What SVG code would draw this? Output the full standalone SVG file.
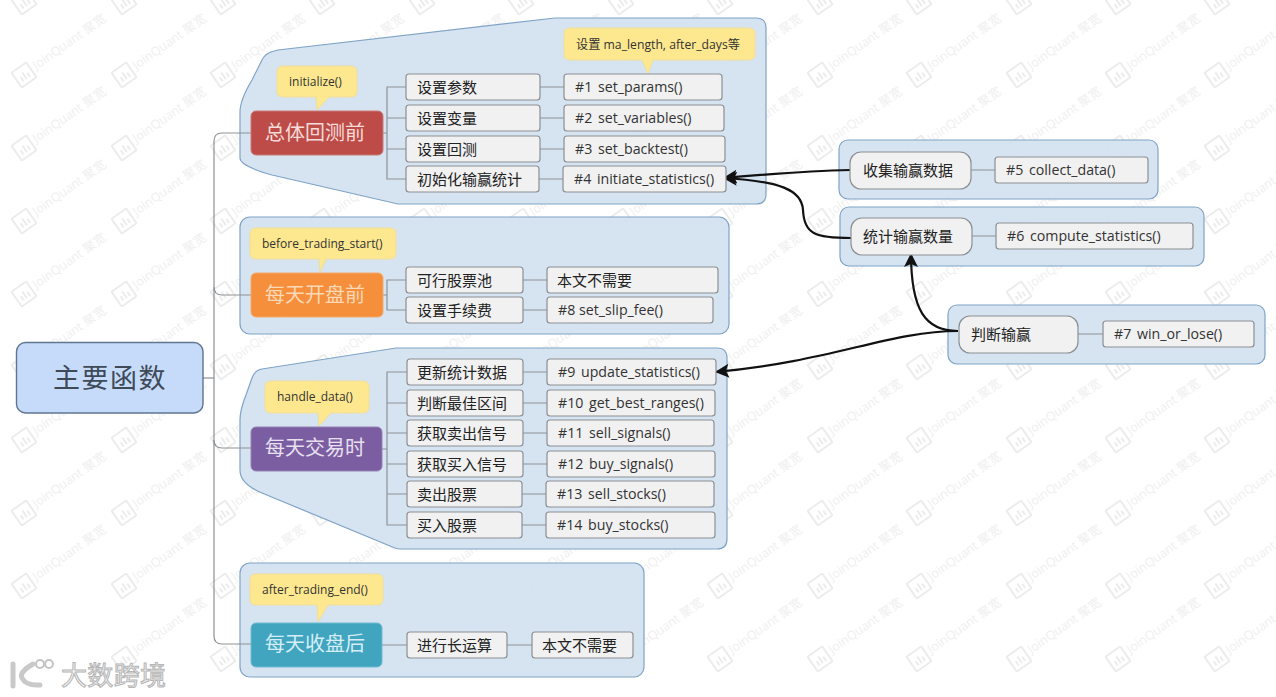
<svg xmlns="http://www.w3.org/2000/svg" width="1276" height="697" viewBox="0 0 1276 697">
<style>
text{font-family:"Open Sans","Noto Sans CJK SC","Noto Sans",sans-serif;}
.cjk{font-family:"Noto Sans CJK SC","Noto Sans",sans-serif;}
.panel{fill:#d2e2f1;fill-opacity:.92;stroke:#7fa3c6;stroke-width:1.2;}
.box{fill:#f1f1f1;stroke:#8b8f93;stroke-width:1.2;}
.callout{fill:#fde88f;stroke:#f0dd9a;stroke-width:1;}
.lab{font-size:15px;fill:#222;}
.code{font-size:14.200px;fill:#333;word-spacing:2px;}
.note{font-size:12px;fill:#333;}
.main{font-size:20px;fill:#f6dcd8;}
.line{fill:none;stroke:#8d9296;stroke-width:1.2;}
.link{fill:none;stroke:#111;stroke-width:2.2;}
.wm{fill:#efefef;font-size:12.500px;}
.wmi{fill:none;stroke:#ececec;stroke-width:2;}
</style>
<defs>
<marker id="ah" markerUnits="userSpaceOnUse" markerWidth="16" markerHeight="16" refX="14" refY="7" orient="auto"><path d="M0,0 L14,7 L0,14 L3,7 Z" fill="#111"/></marker>
<g id="wmark" transform="rotate(-35)">
<rect class="wmi" x="-9" y="-9" width="18" height="18" rx="1"/>
<path class="wmi" d="M-4,5 V0 M0,5 V-3 M4,5 V0" stroke-width="1.5"/>
<text class="wm" x="13" y="3">JoinQuant 聚宽</text>
</g>
</defs>
<rect width="1276" height="697" fill="#ffffff"/>
<g id="watermark">
<use href="#wmark" transform="translate(24,2)"/><use href="#wmark" transform="translate(124,2)"/><use href="#wmark" transform="translate(223,2)"/><use href="#wmark" transform="translate(322,2)"/><use href="#wmark" transform="translate(422,2)"/><use href="#wmark" transform="translate(521,2)"/><use href="#wmark" transform="translate(621,2)"/><use href="#wmark" transform="translate(720,2)"/><use href="#wmark" transform="translate(820,2)"/><use href="#wmark" transform="translate(919,2)"/><use href="#wmark" transform="translate(1019,2)"/><use href="#wmark" transform="translate(1118,2)"/><use href="#wmark" transform="translate(1217,2)"/>
<use href="#wmark" transform="translate(24,75)"/><use href="#wmark" transform="translate(124,75)"/><use href="#wmark" transform="translate(223,75)"/><use href="#wmark" transform="translate(322,75)"/><use href="#wmark" transform="translate(422,75)"/><use href="#wmark" transform="translate(521,75)"/><use href="#wmark" transform="translate(621,75)"/><use href="#wmark" transform="translate(720,75)"/><use href="#wmark" transform="translate(820,75)"/><use href="#wmark" transform="translate(919,75)"/><use href="#wmark" transform="translate(1019,75)"/><use href="#wmark" transform="translate(1118,75)"/><use href="#wmark" transform="translate(1217,75)"/>
<use href="#wmark" transform="translate(24,148)"/><use href="#wmark" transform="translate(124,148)"/><use href="#wmark" transform="translate(223,148)"/><use href="#wmark" transform="translate(322,148)"/><use href="#wmark" transform="translate(422,148)"/><use href="#wmark" transform="translate(521,148)"/><use href="#wmark" transform="translate(621,148)"/><use href="#wmark" transform="translate(720,148)"/><use href="#wmark" transform="translate(820,148)"/><use href="#wmark" transform="translate(919,148)"/><use href="#wmark" transform="translate(1019,148)"/><use href="#wmark" transform="translate(1118,148)"/><use href="#wmark" transform="translate(1217,148)"/>
<use href="#wmark" transform="translate(24,221)"/><use href="#wmark" transform="translate(124,221)"/><use href="#wmark" transform="translate(223,221)"/><use href="#wmark" transform="translate(322,221)"/><use href="#wmark" transform="translate(422,221)"/><use href="#wmark" transform="translate(521,221)"/><use href="#wmark" transform="translate(621,221)"/><use href="#wmark" transform="translate(720,221)"/><use href="#wmark" transform="translate(820,221)"/><use href="#wmark" transform="translate(919,221)"/><use href="#wmark" transform="translate(1019,221)"/><use href="#wmark" transform="translate(1118,221)"/><use href="#wmark" transform="translate(1217,221)"/>
<use href="#wmark" transform="translate(24,294)"/><use href="#wmark" transform="translate(124,294)"/><use href="#wmark" transform="translate(223,294)"/><use href="#wmark" transform="translate(322,294)"/><use href="#wmark" transform="translate(422,294)"/><use href="#wmark" transform="translate(521,294)"/><use href="#wmark" transform="translate(621,294)"/><use href="#wmark" transform="translate(720,294)"/><use href="#wmark" transform="translate(820,294)"/><use href="#wmark" transform="translate(919,294)"/><use href="#wmark" transform="translate(1019,294)"/><use href="#wmark" transform="translate(1118,294)"/><use href="#wmark" transform="translate(1217,294)"/>
<use href="#wmark" transform="translate(24,367)"/><use href="#wmark" transform="translate(124,367)"/><use href="#wmark" transform="translate(223,367)"/><use href="#wmark" transform="translate(322,367)"/><use href="#wmark" transform="translate(422,367)"/><use href="#wmark" transform="translate(521,367)"/><use href="#wmark" transform="translate(621,367)"/><use href="#wmark" transform="translate(720,367)"/><use href="#wmark" transform="translate(820,367)"/><use href="#wmark" transform="translate(919,367)"/><use href="#wmark" transform="translate(1019,367)"/><use href="#wmark" transform="translate(1118,367)"/><use href="#wmark" transform="translate(1217,367)"/>
<use href="#wmark" transform="translate(24,440)"/><use href="#wmark" transform="translate(124,440)"/><use href="#wmark" transform="translate(223,440)"/><use href="#wmark" transform="translate(322,440)"/><use href="#wmark" transform="translate(422,440)"/><use href="#wmark" transform="translate(521,440)"/><use href="#wmark" transform="translate(621,440)"/><use href="#wmark" transform="translate(720,440)"/><use href="#wmark" transform="translate(820,440)"/><use href="#wmark" transform="translate(919,440)"/><use href="#wmark" transform="translate(1019,440)"/><use href="#wmark" transform="translate(1118,440)"/><use href="#wmark" transform="translate(1217,440)"/>
<use href="#wmark" transform="translate(24,513)"/><use href="#wmark" transform="translate(124,513)"/><use href="#wmark" transform="translate(223,513)"/><use href="#wmark" transform="translate(322,513)"/><use href="#wmark" transform="translate(422,513)"/><use href="#wmark" transform="translate(521,513)"/><use href="#wmark" transform="translate(621,513)"/><use href="#wmark" transform="translate(720,513)"/><use href="#wmark" transform="translate(820,513)"/><use href="#wmark" transform="translate(919,513)"/><use href="#wmark" transform="translate(1019,513)"/><use href="#wmark" transform="translate(1118,513)"/><use href="#wmark" transform="translate(1217,513)"/>
<use href="#wmark" transform="translate(24,586)"/><use href="#wmark" transform="translate(124,586)"/><use href="#wmark" transform="translate(223,586)"/><use href="#wmark" transform="translate(322,586)"/><use href="#wmark" transform="translate(422,586)"/><use href="#wmark" transform="translate(521,586)"/><use href="#wmark" transform="translate(621,586)"/><use href="#wmark" transform="translate(720,586)"/><use href="#wmark" transform="translate(820,586)"/><use href="#wmark" transform="translate(919,586)"/><use href="#wmark" transform="translate(1019,586)"/><use href="#wmark" transform="translate(1118,586)"/><use href="#wmark" transform="translate(1217,586)"/>
<use href="#wmark" transform="translate(124,659)"/><use href="#wmark" transform="translate(223,659)"/><use href="#wmark" transform="translate(322,659)"/><use href="#wmark" transform="translate(422,659)"/><use href="#wmark" transform="translate(521,659)"/><use href="#wmark" transform="translate(621,659)"/><use href="#wmark" transform="translate(720,659)"/><use href="#wmark" transform="translate(820,659)"/><use href="#wmark" transform="translate(919,659)"/><use href="#wmark" transform="translate(1019,659)"/><use href="#wmark" transform="translate(1118,659)"/><use href="#wmark" transform="translate(1217,659)"/>
</g>
<g id="panels">
<path class="panel" d="M271,52 Q274,51 278,50 L555,18 H756 Q766,18 766,28 V194 Q766,204 756,204 H398 L272,175 Q240,166 240,158 V112 Q240,100 252,80 L262,60 Q265,54 271,52 Z"/>
<rect class="panel" x="240" y="217" width="489" height="117" rx="10"/>
<path class="panel" d="M262,369 L396,348 H717 Q727,348 727,358 V539 Q727,549 717,549 H400 Q396,549 390,546 L262,493 Q240,484 240,470 V420 Q240,410 246,395 L252,378 Q255,370 262,369 Z"/>
<rect class="panel" x="240" y="563" width="404" height="114" rx="10"/>
<rect class="panel" x="839" y="140" width="319" height="59" rx="9"/>
<rect class="panel" x="840" y="207" width="364" height="59" rx="9"/>
<rect class="panel" x="948" y="305" width="317" height="59" rx="9"/>
</g>
<g id="connectors">
<path class="line" d="M203,378 H214"/>
<path class="line" d="M251,133 H222 Q214,133 214,141 V636 Q214,644 222,644 H251"/>
<path class="line" d="M214,287 Q214,295 222,295 H251"/>
<path class="line" d="M214,440 Q214,448 222,448 H251"/>
<path class="line" d="M383,133 H387 M406,87 H387 V179 H406 M387,118 H406 M387,149 H406"/>
<path class="line" d="M540,87 H564 M540,118 H564 M540,149 H564 M539,179 H563"/>
<path class="line" d="M383,295 H387 M406,280 H387 V310 H406"/>
<path class="line" d="M523,280 H547 M523,310 H547"/>
<path class="line" d="M382,449 H387 M407,372 H387 V525 H407 M387,403 H407 M387,433 H407 M387,464 H407 M387,494 H407"/>
<path class="line" d="M523,372 H547 M523,403 H547 M523,433 H547 M523,464 H547 M522,494 H546 M522,525 H546"/>
<path class="line" d="M382,645 H407 M507,645 H532"/>
<path class="line" d="M971,170 H995 M972,236 H996 M1078,334 H1103"/>
<path class="link" marker-end="url(#ah)" d="M850,170 C805,171 770,174 723,178"/>
<path class="link" marker-end="url(#ah)" d="M851,238 C815,238 804,234 803,210 C802,190 780,181 723,178"/>
<path class="link" marker-end="url(#ah)" d="M958,331 C925,331 911,310 911,253"/>
<path class="link" marker-end="url(#ah)" d="M958,331 C890,331 830,362 715,372"/>
</g>
<g id="root"><rect x="16.500" y="342.500" width="186.500" height="70.500" rx="9" fill="#c6dbfa" stroke="#5f7590" stroke-width="1.400"/><text class="cjk" x="53" y="388" font-size="27" fill="#3f4a58" letter-spacing="1.500">主要函数</text></g>
<g id="n-init"><path class="callout" d="M283,66 H351 Q357,66 357,72 V91 Q357,97 351,97 H329 L317,110 L316,97 H283 Q277,97 277,91 V72 Q277,66 283,66 Z"/><text class="note" x="289" y="86">initialize()</text>
<rect x="251" y="111" width="132" height="44" rx="5" fill="#bd4b48" stroke="#c97a76"/><text class="main cjk" x="265" y="140">总体回测前</text></g>
<g id="n-params-note"><path class="callout" d="M570,28 H749 Q755,28 755,34 V54 Q755,60 749,60 H653 L648,74 L642,60 H570 Q564,60 564,54 V34 Q564,28 570,28 Z"/><text class="note" x="576" y="49" textLength="164" lengthAdjust="spacingAndGlyphs">设置 ma_length, after_days等</text></g>
<g id="n-a1"><rect class="box" x="406" y="74" width="134" height="26" rx="3"/><text class="lab cjk" x="417" y="93">设置参数</text></g>
<g id="n-a2"><rect class="box" x="406" y="105" width="134" height="26" rx="3"/><text class="lab cjk" x="417" y="124">设置变量</text></g>
<g id="n-a3"><rect class="box" x="406" y="136" width="134" height="26" rx="3"/><text class="lab cjk" x="417" y="155">设置回测</text></g>
<g id="n-a4"><rect class="box" x="406" y="166" width="133" height="26" rx="3"/><text class="lab cjk" x="417" y="185">初始化输赢统计</text></g>
<g id="n-f1"><rect class="box" x="564" y="74" width="158" height="26" rx="3"/><text class="code" x="575" y="92">#1 set_params()</text></g>
<g id="n-f2"><rect class="box" x="564" y="105" width="160" height="26" rx="3"/><text class="code" x="575" y="123">#2 set_variables()</text></g>
<g id="n-f3"><rect class="box" x="564" y="136" width="161" height="26" rx="3"/><text class="code" x="575" y="154">#3 set_backtest()</text></g>
<g id="n-f4"><rect class="box" x="563" y="166" width="163" height="26" rx="3"/><text class="code" x="574" y="184">#4 initiate_statistics()</text></g>
<g id="n-before"><path class="callout" d="M256,228 H390 Q396,228 396,234 V253 Q396,259 390,259 H326 L320,272 L319,259 H256 Q250,259 250,253 V234 Q250,228 256,228 Z"/><text class="note" x="262" y="248">before_trading_start()</text>
<rect x="251" y="273" width="132" height="44" rx="5" fill="#f68f3c" stroke="#f5a86a"/><text class="main cjk" x="265" y="302" style="fill:#fbd9b8">每天开盘前</text></g>
<g id="n-b1"><rect class="box" x="406" y="267" width="117" height="26" rx="3"/><text class="lab cjk" x="417" y="286">可行股票池</text></g>
<g id="n-b2"><rect class="box" x="406" y="297" width="117" height="26" rx="3"/><text class="lab cjk" x="417" y="316">设置手续费</text></g>
<g id="n-b3"><rect class="box" x="547" y="267" width="171" height="26" rx="3"/><text class="lab cjk" x="557" y="286">本文不需要</text></g>
<g id="n-b4"><rect class="box" x="547" y="297" width="166" height="26" rx="3"/><text class="code" x="558" y="315" style="word-spacing:0">#8 set_slip_fee()</text></g>
<g id="n-handle"><path class="callout" d="M271,381 H363 Q369,381 369,387 V407 Q369,413 363,413 H331 L319,426 L318,413 H271 Q265,413 265,407 V387 Q265,381 271,381 Z"/><text class="note" x="277" y="401">handle_data()</text>
<rect x="251" y="427" width="131" height="44" rx="5" fill="#7b5ea1" stroke="#9581b3"/><text class="main cjk" x="265" y="455" style="fill:#e8e0f0">每天交易时</text></g>
<g id="n-c1"><rect class="box" x="407" y="359" width="116" height="26" rx="3"/><text class="lab cjk" x="417" y="378">更新统计数据</text></g>
<g id="n-c2"><rect class="box" x="407" y="390" width="116" height="26" rx="3"/><text class="lab cjk" x="417" y="409">判断最佳区间</text></g>
<g id="n-c3"><rect class="box" x="407" y="420" width="116" height="26" rx="3"/><text class="lab cjk" x="417" y="439">获取卖出信号</text></g>
<g id="n-c4"><rect class="box" x="407" y="451" width="116" height="26" rx="3"/><text class="lab cjk" x="417" y="470">获取买入信号</text></g>
<g id="n-c5"><rect class="box" x="407" y="481" width="115" height="26" rx="3"/><text class="lab cjk" x="417" y="500">卖出股票</text></g>
<g id="n-c6"><rect class="box" x="407" y="512" width="115" height="26" rx="3"/><text class="lab cjk" x="417" y="531">买入股票</text></g>
<g id="n-g1"><rect class="box" x="547" y="359" width="169" height="26" rx="3"/><text class="code" x="558" y="377">#9 update_statistics()</text></g>
<g id="n-g2"><rect class="box" x="547" y="390" width="168" height="26" rx="3"/><text class="code" x="558" y="408">#10 get_best_ranges()</text></g>
<g id="n-g3"><rect class="box" x="547" y="420" width="167" height="26" rx="3"/><text class="code" x="558" y="438">#11 sell_signals()</text></g>
<g id="n-g4"><rect class="box" x="547" y="451" width="168" height="26" rx="3"/><text class="code" x="558" y="469">#12 buy_signals()</text></g>
<g id="n-g5"><rect class="box" x="546" y="481" width="168" height="26" rx="3"/><text class="code" x="557" y="499">#13 sell_stocks()</text></g>
<g id="n-g6"><rect class="box" x="546" y="512" width="169" height="26" rx="3"/><text class="code" x="557" y="530">#14 buy_stocks()</text></g>
<g id="n-after"><path class="callout" d="M256,574 H377 Q383,574 383,580 V599 Q383,605 377,605 H328 L318,622 L317,605 H256 Q250,605 250,599 V580 Q250,574 256,574 Z"/><text class="note" x="262" y="594">after_trading_end()</text>
<rect x="251" y="623" width="131" height="44" rx="5" fill="#41a5c0" stroke="#6fbad0"/><text class="main cjk" x="265" y="651" style="fill:#d5eef5">每天收盘后</text></g>
<g id="n-d1"><rect class="box" x="407" y="632" width="100" height="26" rx="3"/><text class="lab cjk" x="417" y="651">进行长运算</text></g>
<g id="n-d2"><rect class="box" x="532" y="632" width="101" height="26" rx="3"/><text class="lab cjk" x="542" y="651">本文不需要</text></g>
<g id="n-e1"><rect class="box" x="850" y="152" width="121" height="37" rx="11"/><text class="lab cjk" x="863" y="176">收集输赢数据</text></g>
<g id="n-e2"><rect class="box" x="995" y="157" width="153" height="26" rx="3"/><text class="code" x="1006" y="175">#5 collect_data()</text></g>
<g id="n-e3"><rect class="box" x="851" y="218" width="121" height="37" rx="11"/><text class="lab cjk" x="863" y="242">统计输赢数量</text></g>
<g id="n-e4"><rect class="box" x="996" y="223" width="197" height="26" rx="3"/><text class="code" x="1007" y="241">#6 compute_statistics()</text></g>
<g id="n-e5"><rect class="box" x="959" y="316" width="119" height="37" rx="11"/><text class="lab cjk" x="971" y="340">判断输赢</text></g>
<g id="n-e6"><rect class="box" x="1103" y="321" width="151" height="26" rx="3"/><text class="code" x="1114" y="339">#7 win_or_lose()</text></g>
<g id="logo">
<path d="M13,664 V686 M33,664 Q19,672 22,678 Q26,686 40,685" fill="none" stroke="#c9c9c9" stroke-width="5" stroke-linecap="round"/>
<circle cx="40" cy="664" r="4" fill="none" stroke="#c4c4c4" stroke-width="2"/><circle cx="49" cy="664" r="4" fill="none" stroke="#c4c4c4" stroke-width="2"/>
<text class="cjk" x="61" y="685" font-size="26" fill="#f4f4f4" stroke="#b5b5b5" stroke-width="1" textLength="105">大数跨境</text>
</g>
</svg>
